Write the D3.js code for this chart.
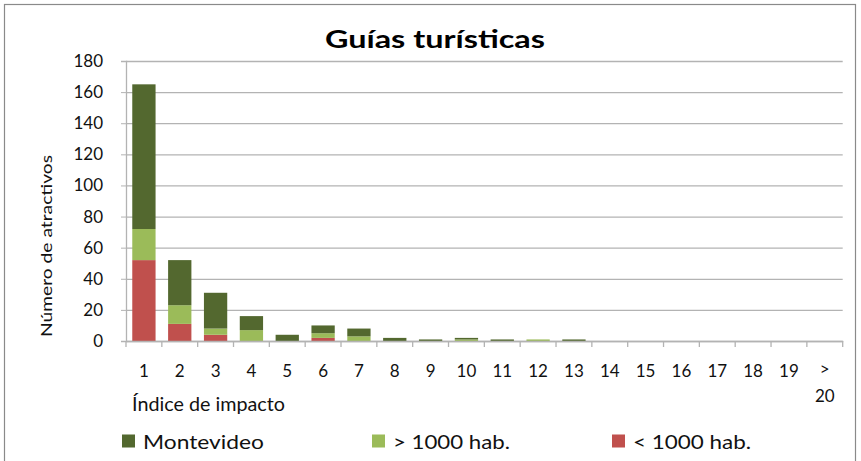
<!DOCTYPE html>
<html><head><meta charset="utf-8">
<script src="https://cdn.jsdelivr.net/npm/d3@7"></script>
<style>body{margin:0;background:#fff}svg{display:block}text{font-family:Lato,"Open Sans",sans-serif}</style>
</head><body><svg id="c" width="861" height="461"></svg>
<script>
const categories = ["1","2","3","4","5","6","7","8","9","10","11","12","13","14","15","16","17","18","19","> 20"];
const seriesNames = ["< 1000 hab.", "> 1000 hab.", "Montevideo"];
const menos1000 = [52, 11, 4, 0, 0, 2, 0, 0, 0, 0, 0, 0, 0, 0, 0, 0, 0, 0, 0, 0];
const mas1000   = [20, 12, 4, 7, 0, 3, 3, 0, 0, 1, 0, 1, 0, 0, 0, 0, 0, 0, 0, 0];
const montevideo= [93, 29, 23, 9, 4, 5, 5, 2, 1, 1, 1, 0, 1, 0, 0, 0, 0, 0, 0, 0];
const yTicks = [0,20,40,60,80,100,120,140,160,180];
const colors = {"Montevideo":"#53682f","> 1000 hab.":"#9bbb59","< 1000 hab.":"#c0504d"};

const svg = d3.select("#c");
svg.append("rect").attr("x",4.5).attr("y",4.5).attr("width",851).attr("height",470)
  .attr("fill","#fff").attr("stroke","#8a8a8a").attr("stroke-width",1.2);

const L=126, R=842.7, T=61, B=341;
const x = d3.scaleBand().domain(categories).range([L,R]).paddingInner(0.35).paddingOuter(0.175);
const y = d3.scaleLinear().domain([0,180]).range([B,T]);

const data = categories.map((c,i)=>({cat:c,"< 1000 hab.":menos1000[i],"> 1000 hab.":mas1000[i],"Montevideo":montevideo[i]}));
const stack = d3.stack().keys(seriesNames)(data);

// gridlines
const gy = svg.append("g").attr("transform",`translate(${L},0)`)
  .call(d3.axisLeft(y).tickValues(yTicks).tickSize(-(R-L)).tickFormat(""));
gy.select(".domain").remove();
gy.selectAll("line").attr("stroke","#b3b3b3").attr("stroke-width",1.3);
// y ticks outer
const ya = svg.append("g").attr("transform",`translate(${L},0)`)
  .call(d3.axisLeft(y).tickValues(yTicks).tickSize(5).tickPadding(23));
ya.select(".domain").attr("stroke","#b3b3b3").attr("stroke-width",1.3);
ya.selectAll("line").attr("stroke","#b3b3b3");
ya.selectAll("text").attr("font-size",17).attr("fill","#111").attr("x",-23);

// bars
svg.append("g").selectAll("g").data(stack).join("g")
  .attr("fill",d=>colors[d.key])
  .selectAll("rect").data(d=>d).join("rect")
  .attr("x",d=>x(d.data.cat)).attr("width",x.bandwidth())
  .attr("y",d=>y(d[1])).attr("height",d=>y(d[0])-y(d[1]));

// x axis
const xa = svg.append("g").attr("transform",`translate(0,${B})`)
  .call(d3.axisBottom(x).tickSize(0).tickPadding(0));
xa.select(".domain").attr("stroke","#b3b3b3").attr("stroke-width",1.3);
xa.selectAll("text").attr("font-size",17).attr("fill","#111").attr("dy",null).attr("y",36).each(function(d){
  if(d.startsWith(">")){
    const t=d3.select(this); t.text(null);
    t.append("tspan").attr("x",0).attr("y",34).text(">");
    t.append("tspan").attr("x",0).attr("y",61).text(d.slice(2));
  }
});
const bounds = categories.map((c,i)=>L + i*x.step()).concat([R]);
svg.append("g").selectAll("line").data(bounds).join("line")
  .attr("x1",d=>d).attr("x2",d=>d).attr("y1",B).attr("y2",B+6)
  .attr("stroke","#b3b3b3").attr("stroke-width",1.3);

// titles
svg.append("text").attr("x",435).attr("y",48).attr("text-anchor","middle")
  .attr("font-size",25).attr("font-weight","bold").attr("fill","#000")
  .attr("textLength",220).attr("lengthAdjust","spacingAndGlyphs").text("Guías turísticas");
svg.append("text").attr("transform","translate(52,246) rotate(-90)").attr("text-anchor","middle")
  .attr("font-size",16).attr("fill","#111")
  .attr("textLength",182).attr("lengthAdjust","spacingAndGlyphs").text("Número de atractivos");
svg.append("text").attr("x",132).attr("y",411).attr("font-size",19).attr("fill","#111")
  .attr("textLength",153).attr("lengthAdjust","spacingAndGlyphs").text("Índice de impacto");

// legend
const legendItems = ["Montevideo","> 1000 hab.","< 1000 hab."];
const lx = [122, 372, 612];
const lw = [121, 117, 118];
const lg = svg.append("g").selectAll("g").data(legendItems).join("g")
  .attr("transform",(d,i)=>`translate(${lx[i]},441)`);
lg.append("rect").attr("x",0).attr("y",-6.5).attr("width",13).attr("height",13).attr("fill",d=>colors[d]);
lg.append("text").attr("x",21).attr("y",7.5).attr("font-size",20).attr("fill","#111")
  .attr("textLength",(d,i)=>lw[i]).attr("lengthAdjust","spacingAndGlyphs").text(d=>d);
</script></body></html>
